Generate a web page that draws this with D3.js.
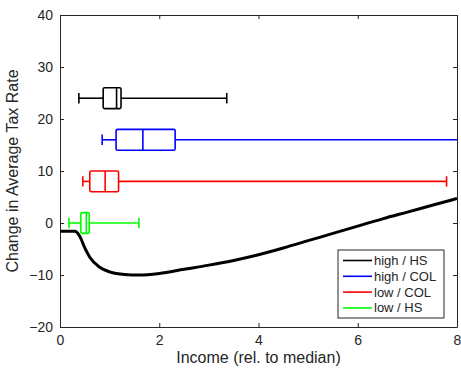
<!DOCTYPE html>
<html>
<head>
<meta charset="utf-8">
<script src="https://cdn.jsdelivr.net/npm/d3@7"></script>
<style>
  body { margin: 0; background: #fff; }
  text { font-family: "Liberation Sans", Arial, sans-serif; fill: #262626; }
</style>
</head>
<body>
<div id="chart"></div>
<script>
// box plot groups
var groups = ["high / HS", "high / COL", "low / COL", "low / HS"];
var groupColors = ["#000000", "#0000ff", "#ff0000", "#00ff00"];
var boxRow = [24, 16, 8, 0];
var whiskerLo = [0.38, 0.85, 0.46, 0.18];
var q1 = [0.87, 1.13, 0.60, 0.42];
var med = [1.14, 1.67, 0.91, 0.53];
var q3 = [1.23, 2.32, 1.18, 0.59];
var whiskerHi = [3.36, 10.0, 7.79, 1.59];

// change in tax rate curve
var incomeX = [0, 0.3, 0.4, 0.5, 0.6, 0.8, 1.0, 1.3, 1.6, 2.0, 2.5, 3.0, 3.5, 4.0, 4.5, 5.0, 5.5, 6.0, 6.5, 7.0, 7.5, 8.0];
var taxChange = [-1.6, -1.6, -2.6, -4.8, -6.6, -8.5, -9.4, -9.9, -10.0, -9.7, -8.9, -8.1, -7.2, -6.1, -4.8, -3.4, -2.0, -0.6, 0.8, 2.1, 3.4, 4.7];

var xTicks = [0, 2, 4, 6, 8];
var yTicks = [-20, -10, 0, 10, 20, 30, 40];

var margin = {top: 15, right: 4, bottom: 43, left: 60},
    width = 461 - margin.left - margin.right,
    height = 370 - margin.top - margin.bottom;

var svg = d3.select("#chart")
    .append("svg")
    .attr("width", 461)
    .attr("height", 370)
    .append("g")
    .attr("transform", "translate(" + margin.left + "," + margin.top + ")");

var x = d3.scaleLinear().domain([0, 8]).range([0, 397]);
var y = d3.scaleLinear().domain([-20, 40]).range([312, 0]);

svg.append("clipPath").attr("id", "clip")
    .append("rect").attr("x", 0).attr("y", 0).attr("width", 397).attr("height", 312);

var axisColor = "#262626";

// axes (MATLAB style box with inward ticks)
var xAxis = svg.append("g")
    .attr("transform", "translate(0,312)")
    .call(d3.axisBottom(x).tickValues(xTicks).tickSizeInner(-4).tickSizeOuter(0).tickPadding(8));
var xTop = svg.append("g")
    .call(d3.axisTop(x).tickValues(xTicks).tickSizeInner(-4).tickSizeOuter(0).tickFormat(""));
var yAxis = svg.append("g")
    .call(d3.axisLeft(y).tickValues(yTicks).tickSizeInner(-4).tickSizeOuter(0).tickPadding(7));
var yRight = svg.append("g")
    .attr("transform", "translate(397,0)")
    .call(d3.axisRight(y).tickValues(yTicks).tickSizeInner(-4).tickSizeOuter(0).tickFormat(""));

[xAxis, xTop, yAxis, yRight].forEach(function(a) {
    a.select(".domain").attr("stroke", axisColor).attr("stroke-width", 1);
    a.selectAll(".tick line").attr("stroke", axisColor);
    a.selectAll(".tick text").style("font-size", "14px").attr("fill", axisColor)
        .style("font-family", "'Liberation Sans', Arial, sans-serif");
});

var plot = svg.append("g").attr("clip-path", "url(#clip)");

// curve
var line = d3.line()
    .x(function(d, i) { return x(incomeX[i]); })
    .y(function(d) { return y(d); })
    .curve(d3.curveMonotoneX);

plot.append("path")
    .datum(taxChange)
    .attr("d", line)
    .attr("fill", "none")
    .attr("stroke", "#000")
    .attr("stroke-width", 3);

// box plots
var halfBox = 2, halfCap = 1;
groups.forEach(function(g, i) {
    var c = groupColors[i], r = boxRow[i];
    var grp = plot.append("g").attr("stroke", c).attr("stroke-width", 1.6).attr("fill", "none");
    grp.append("line").attr("x1", x(whiskerLo[i])).attr("x2", x(q1[i])).attr("y1", y(r)).attr("y2", y(r));
    grp.append("line").attr("x1", x(q3[i])).attr("x2", x(whiskerHi[i])).attr("y1", y(r)).attr("y2", y(r));
    grp.append("line").attr("x1", x(whiskerLo[i])).attr("x2", x(whiskerLo[i])).attr("y1", y(r + halfCap)).attr("y2", y(r - halfCap));
    grp.append("line").attr("x1", x(whiskerHi[i])).attr("x2", x(whiskerHi[i])).attr("y1", y(r + halfCap)).attr("y2", y(r - halfCap));
    grp.append("rect")
        .attr("x", x(q1[i])).attr("y", y(r + halfBox))
        .attr("width", x(q3[i]) - x(q1[i])).attr("height", y(r - halfBox) - y(r + halfBox))
        .attr("rx", 1.5);
    grp.append("line").attr("x1", x(med[i])).attr("x2", x(med[i])).attr("y1", y(r + halfBox)).attr("y2", y(r - halfBox));
});

// axis labels
svg.append("text")
    .attr("x", 397 / 2)
    .attr("y", 348)
    .attr("text-anchor", "middle")
    .style("font-size", "16px")
    .text("Income (rel. to median)");

svg.append("text")
    .attr("transform", "translate(-42," + 156 + ") rotate(-90)")
    .attr("text-anchor", "middle")
    .style("font-size", "16px")
    .text("Change in Average Tax Rate");

// legend
var legend = svg.append("g").attr("transform", "translate(278,235)");
legend.append("rect")
    .attr("x", 0).attr("y", 0).attr("width", 106).attr("height", 68)
    .attr("fill", "#fff").attr("stroke", axisColor).attr("stroke-width", 1);
groups.forEach(function(g, i) {
    var yy = 10.5 + i * 15.8;
    legend.append("line")
        .attr("x1", 5).attr("x2", 34).attr("y1", yy).attr("y2", yy)
        .attr("stroke", groupColors[i]).attr("stroke-width", 1.6);
    legend.append("text")
        .attr("x", 36).attr("y", yy)
        .attr("dy", "0.35em")
        .style("font-size", "13px")
        .attr("fill", "#000")
        .text(g);
});
</script>
</body>
</html>
